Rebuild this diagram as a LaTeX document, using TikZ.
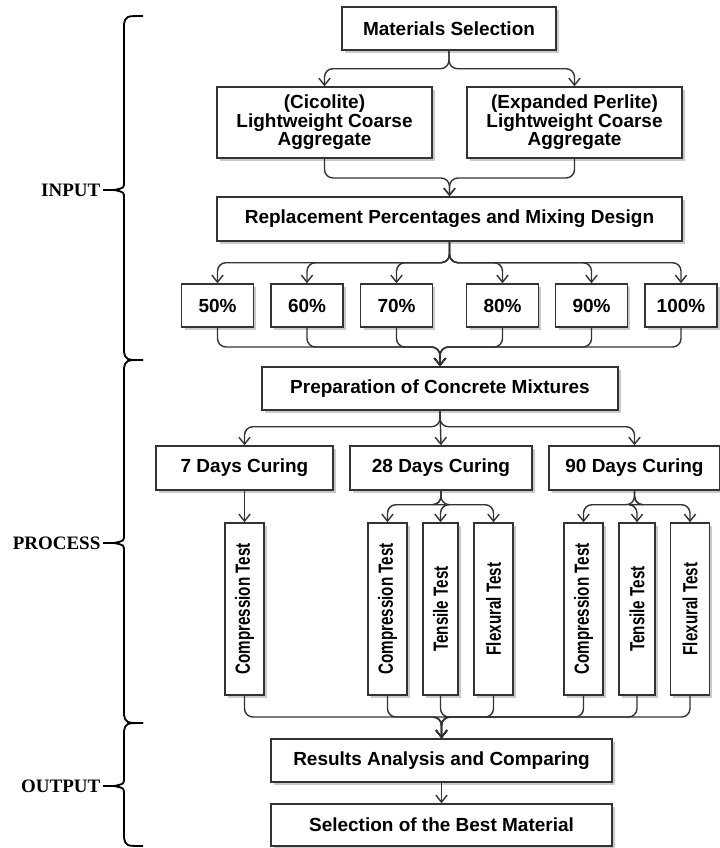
\documentclass[tikz,border=0pt]{standalone}
\usepackage{fontspec}
\usepackage{graphicx}
\setmainfont{Liberation Serif}
\newfontfamily\boxfont{Liberation Sans}
\newfontfamily\narrowfont[FakeStretch=0.74]{Liberation Sans}
\usetikzlibrary{arrows.meta,shadows}

\begin{document}
\begin{tikzpicture}[x=0.025cm, y=-0.025cm,
  box/.style={draw=black!80, line width=1pt, fill=white, align=center, inner sep=2pt,
    font=\boxfont\bfseries\fontsize{13.5}{13.2}\selectfont,
    drop shadow={shadow xshift=2pt, shadow yshift=-2pt, fill=black!35, opacity=0.6}},
  testbox/.style={box, font=\narrowfont\bfseries\fontsize{14.6}{14.6}\selectfont,
    minimum width=0.975cm, minimum height=4.3cm},
  link/.style={draw=black!80, line width=1pt, rounded corners=6pt},
  arr/.style={link, -{Straight Barb[length=5pt, width=8pt]}},
  brace/.style={line width=1.3pt},
  secname/.style={font=\bfseries\fontsize{13.5}{13.5}\selectfont, anchor=east, inner sep=1pt}]
\useasboundingbox (0,0) rectangle (720,848);

%input
\node[box, minimum width=5.35cm, minimum height=1.075cm] (ms) at (449,28.5) {Materials Selection};
\node[box, minimum width=5.375cm, minimum height=1.775cm] (cic) at (324.5,122.5) {(Cicolite)\\Lightweight Coarse\\Aggregate};
\node[box, minimum width=5.375cm, minimum height=1.775cm] (exp) at (574.5,122.5) {(Expanded Perlite)\\Lightweight Coarse\\Aggregate};
\node[box, minimum width=11.625cm, minimum height=1.1cm] (rep) at (449.5,219) {Replacement Percentages and Mixing Design};
\foreach \p/\x in {50/217.5,60/307,70/396.5,80/502.5,90/591.5,100/681}
  \node[box, minimum width=1.79cm, minimum height=1.075cm] (p\p) at (\x,305.5) {\p\%};

\draw[arr] (ms.south) -- ++(0,18) -| (cic.north);
\draw[arr] (ms.south) -- ++(0,18) -| (exp.north);
\coordinate (j1) at (449.5,178);
\draw[arr] (cic.south) |- (j1) -- (rep.north);
\draw[arr] (exp.south) |- (j1) -- (rep.north);
\foreach \p in {50,60,70,80,90,100}
  \draw[arr] (rep.south) -- ++(0,21) -| (p\p.north);

%process
\node[box, minimum width=8.9cm, minimum height=1.075cm] (prep) at (440,388.5) {Preparation of Concrete Mixtures};
\coordinate (j2) at (440,347);
\foreach \p in {50,60,70,80,90,100}
  \draw[arr] (p\p.south) |- (j2) -- (prep.north);

\node[box, minimum width=4.425cm, minimum height=1.1cm] (d7) at (244.5,468) {7 Days Curing};
\node[box, minimum width=4.55cm, minimum height=1.1cm] (d28) at (441,468) {28 Days Curing};
\node[box, minimum width=4.275cm, minimum height=1.1cm] (d90) at (634.5,468) {90 Days Curing};
\draw[arr] (prep.south) -- ++(0,16) -| (d7.north);
\draw[arr] (prep.south) -- (d28.north);
\draw[arr] (prep.south) -- ++(0,16) -| (d90.north);

\node[testbox] (c7) at (244.5,609) {\rotatebox{90}{Compression Test}};
\node[testbox] (c28) at (387.5,609) {\rotatebox{90}{Compression Test}};
\node[testbox, minimum width=0.875cm] (t28) at (440.5,609) {\rotatebox{90}{Tensile Test}};
\node[testbox] (f28) at (493.5,609) {\rotatebox{90}{Flexural Test}};
\node[testbox] (c90) at (583.5,609) {\rotatebox{90}{Compression Test}};
\node[testbox, minimum width=0.9cm] (t90) at (637,609) {\rotatebox{90}{Tensile Test}};
\node[testbox] (f90) at (690,609) {\rotatebox{90}{Flexural Test}};

\draw[arr] (d7.south) -- (c7.north);
\foreach \t in {c28,t28,f28}
  \draw[arr] (d28.south) -- ++(0,14) -| (\t.north);
\foreach \t in {c90,t90,f90}
  \draw[arr] (d90.south) -- ++(0,14) -| (\t.north);

%output
\node[box, minimum width=8.525cm, minimum height=1.075cm] (res) at (441.5,760.5) {Results Analysis and Comparing};
\node[box, minimum width=8.525cm, minimum height=1.05cm] (sel) at (441.5,825) {Selection of the Best Material};
\coordinate (j3) at (441.5,717);
\foreach \t in {c7,c28,t28,f28,c90,t90,f90}
  \draw[arr] (\t.south) |- (j3) -- (res.north);
\draw[arr] (res) -- (sel);

%chaves
\foreach \a/\b/\m/\t in {16/360/190/INPUT, 360/723/543/PROCESS, 723/846/786/OUTPUT} {
  \draw[brace] (143,\a) .. controls (126,\a) .. (124,\a+8) -- (124,\m-8)
    .. controls (124,\m-2) .. (114,\m) .. controls (124,\m+2) .. (124,\m+8)
    -- (124,\b-8) .. controls (126,\b) .. (143,\b);
  \draw[brace] (103,\m) -- (114,\m);
  \node[secname] (lab\t) at (102,\m) {\t};
}
\end{tikzpicture}
\end{document}
